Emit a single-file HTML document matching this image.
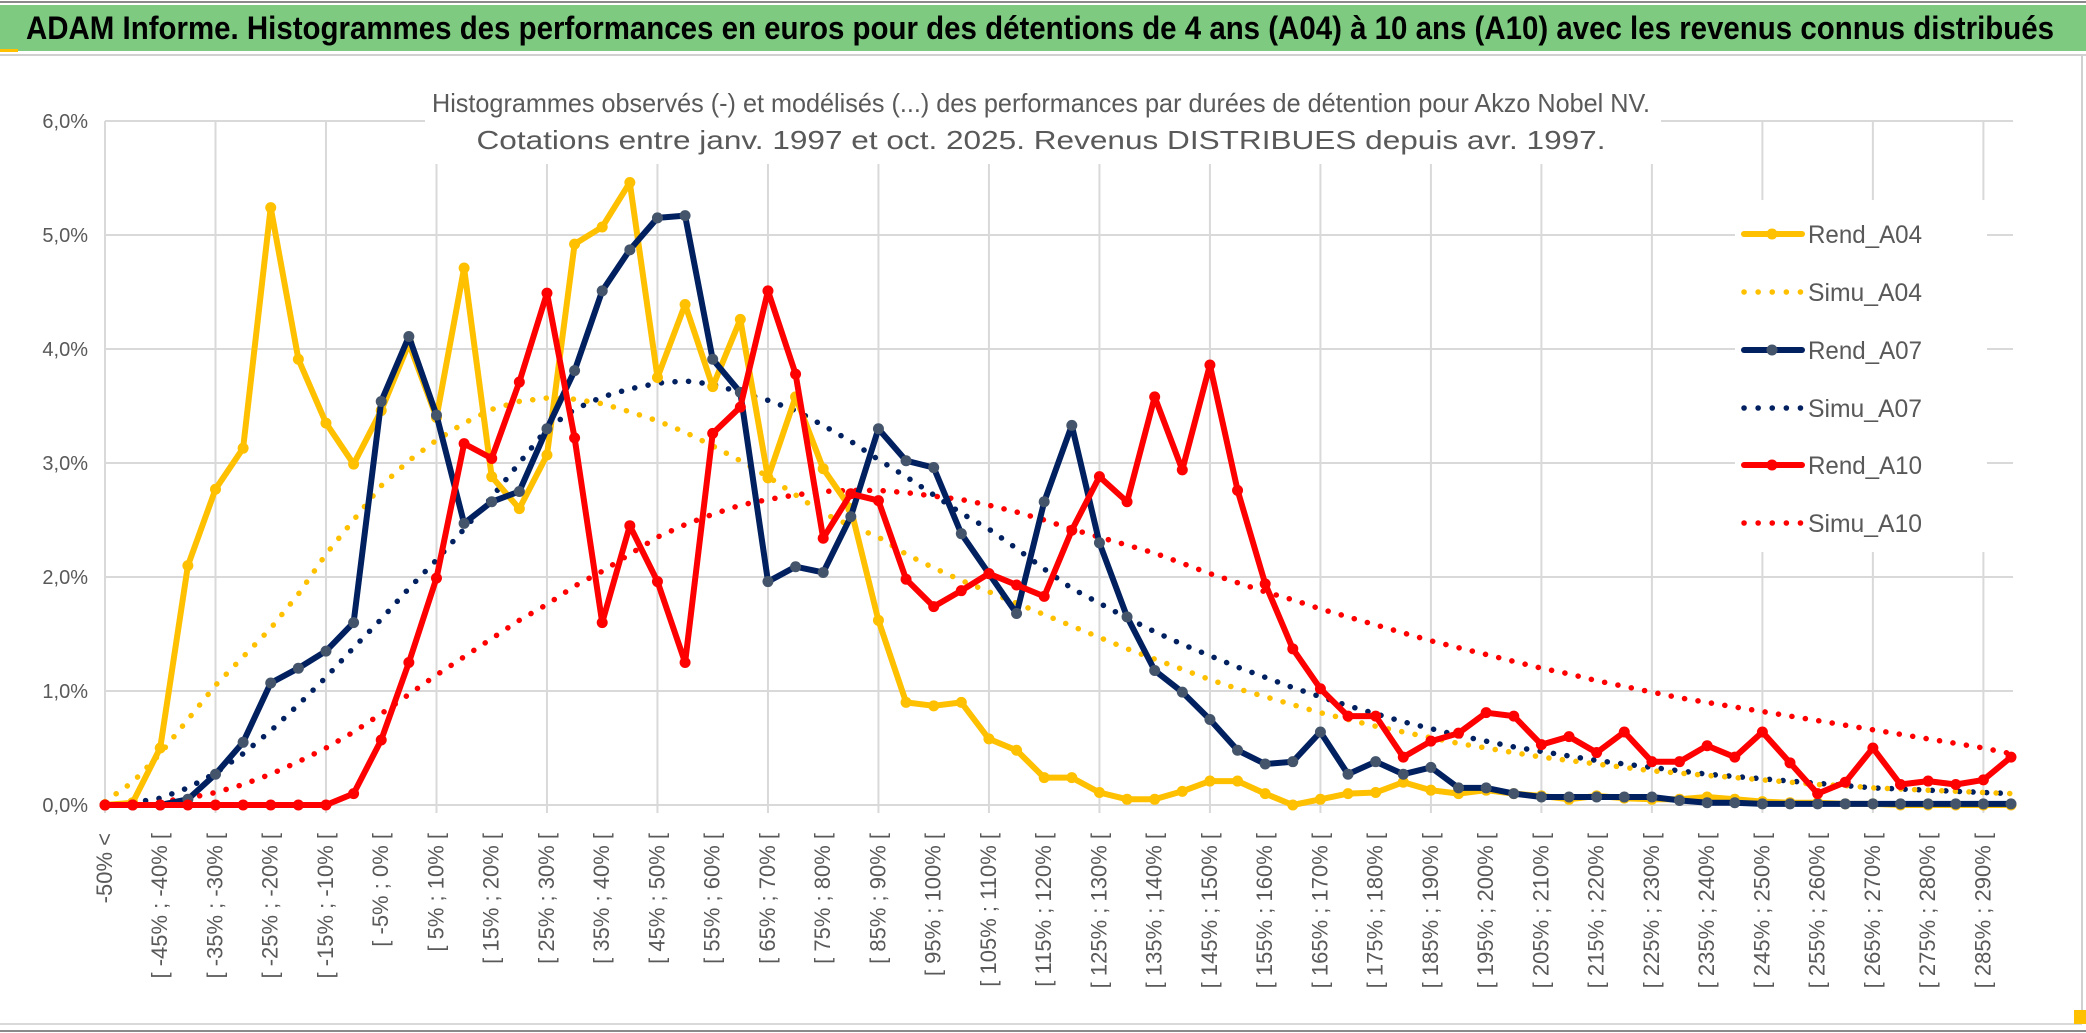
<!DOCTYPE html>
<html><head><meta charset="utf-8"><style>
html,body{margin:0;padding:0;background:#fff;}
svg{display:block;font-family:"Liberation Sans",sans-serif;}
</style></head><body>
<svg id="chart" width="2086" height="1033" viewBox="0 0 2086 1033" xmlns="http://www.w3.org/2000/svg">
<rect x="0" y="0" width="2086" height="1033" fill="#fff"/>
<line x1="0" y1="2" x2="2086" y2="2" stroke="#8a8a8a" stroke-width="2"/>
<rect x="0" y="5" width="2086" height="46" fill="#7ECA81"/>
<rect x="0" y="49" width="18" height="3" fill="#FFC000"/>
<line x1="0" y1="55" x2="2086" y2="55" stroke="#d0d0d0" stroke-width="2"/>
<text x="26" y="39" font-size="32" font-weight="bold" fill="#000" textLength="2028" lengthAdjust="spacingAndGlyphs">ADAM Informe. Histogrammes des performances en euros pour des détentions de 4 ans (A04) à 10 ans (A10) avec les revenus connus distribués</text>
<line x1="2082" y1="56" x2="2082" y2="1024" stroke="#d0d0d0" stroke-width="2"/>
<line x1="0" y1="1024" x2="2082" y2="1024" stroke="#d9d9d9" stroke-width="2"/>
<line x1="0" y1="1031" x2="2086" y2="1031" stroke="#8a8a8a" stroke-width="2"/>
<rect x="2074" y="1010" width="12" height="14" fill="#FFC000"/>
<g id="grid"></g>
<rect x="425" y="78" width="1236" height="86" fill="#fff"/>
<g id="ylabels"></g>
<g id="xlabels"></g>
<g id="series"></g>
<rect x="1735" y="200" width="252" height="352" fill="#fff"/>
<g id="legend"></g>
<text x="1041" y="112" font-size="26" fill="#595959" text-anchor="middle" textLength="1218" lengthAdjust="spacingAndGlyphs">Histogrammes observés (-) et modélisés (...) des performances par durées de détention pour Akzo Nobel NV.</text>
<text x="1041" y="149" font-size="26" fill="#595959" text-anchor="middle" textLength="1129" lengthAdjust="spacingAndGlyphs">Cotations entre janv. 1997 et oct. 2025. Revenus DISTRIBUES depuis avr. 1997.</text>
</svg>
<script>
const categories = (function(){const c=["-50% <"];for(let k=1;k<70;k++){c.push("[ "+(-55+5*k)+"% ; "+(-50+5*k)+"% [");}return c;})();
const yTicks = [0,1,2,3,4,5,6];
const yTickLabels = ["0,0%","1,0%","2,0%","3,0%","4,0%","5,0%","6,0%"];
const rendA04 = [0,0.02,0.5,2.1,2.77,3.13,5.24,3.91,3.35,2.99,3.46,4.05,3.4,4.71,2.88,2.6,3.07,4.92,5.07,5.46,3.75,4.39,3.67,4.26,2.87,3.58,2.95,2.6,1.62,0.9,0.87,0.9,0.58,0.48,0.24,0.24,0.11,0.05,0.05,0.12,0.21,0.21,0.1,0.0,0.05,0.1,0.11,0.2,0.13,0.1,0.13,0.1,0.08,0.05,0.08,0.06,0.05,0.05,0.07,0.05,0.03,0.02,0.02,0.01,0.01,0,0,0,0,0];
const simuA04 = [0.03,0.2,0.45,0.75,1.05,1.3,1.55,1.85,2.2,2.5,2.8,3.02,3.2,3.35,3.47,3.54,3.57,3.56,3.52,3.45,3.37,3.27,3.15,3.02,2.88,2.72,2.56,2.45,2.35,2.2,2.08,1.97,1.87,1.77,1.67,1.57,1.47,1.37,1.28,1.19,1.1,1.02,0.95,0.88,0.81,0.75,0.69,0.64,0.59,0.54,0.5,0.46,0.42,0.39,0.36,0.33,0.3,0.28,0.26,0.24,0.22,0.2,0.18,0.17,0.15,0.14,0.13,0.12,0.11,0.1];
const rendA07 = [0,0,0,0.05,0.27,0.55,1.07,1.2,1.35,1.6,3.54,4.11,3.42,2.47,2.66,2.75,3.3,3.81,4.51,4.87,5.15,5.17,3.91,3.62,1.96,2.09,2.04,2.53,3.3,3.02,2.96,2.38,2.03,1.68,2.66,3.33,2.3,1.65,1.18,0.99,0.75,0.48,0.36,0.38,0.64,0.27,0.38,0.27,0.33,0.15,0.15,0.1,0.07,0.07,0.07,0.07,0.07,0.04,0.02,0.02,0.01,0.01,0.01,0.01,0.01,0.01,0.01,0.01,0.01,0.01];
const simuA07 = [0,0.02,0.06,0.15,0.28,0.45,0.65,0.88,1.12,1.38,1.63,1.9,2.15,2.42,2.7,3.0,3.3,3.47,3.58,3.65,3.7,3.72,3.69,3.62,3.55,3.46,3.33,3.19,3.03,2.88,2.72,2.56,2.42,2.25,2.07,1.9,1.77,1.64,1.52,1.41,1.31,1.21,1.12,1.03,0.95,0.87,0.8,0.73,0.67,0.61,0.56,0.51,0.47,0.43,0.39,0.36,0.33,0.3,0.27,0.25,0.23,0.21,0.19,0.17,0.15,0.14,0.13,0.12,0.11,0.1];
const rendA10 = [0,0,0,0,0,0,0,0,0,0.1,0.57,1.25,1.99,3.17,3.04,3.71,4.49,3.22,1.6,2.45,1.96,1.25,3.26,3.49,4.51,3.78,2.34,2.73,2.67,1.98,1.74,1.88,2.03,1.93,1.83,2.41,2.88,2.66,3.58,2.94,3.86,2.76,1.94,1.37,1.02,0.78,0.78,0.42,0.56,0.63,0.81,0.78,0.53,0.6,0.46,0.64,0.38,0.38,0.52,0.42,0.64,0.37,0.1,0.2,0.5,0.18,0.21,0.18,0.22,0.42];
const simuA10 = [0,0.01,0.03,0.06,0.11,0.18,0.27,0.38,0.5,0.64,0.8,0.97,1.14,1.3,1.46,1.62,1.76,1.92,2.05,2.2,2.35,2.46,2.55,2.63,2.68,2.72,2.75,2.76,2.76,2.74,2.71,2.68,2.63,2.57,2.5,2.42,2.35,2.28,2.21,2.12,2.03,1.95,1.87,1.8,1.72,1.65,1.58,1.51,1.44,1.38,1.32,1.26,1.2,1.15,1.09,1.04,0.99,0.94,0.9,0.86,0.82,0.78,0.74,0.7,0.66,0.62,0.58,0.54,0.5,0.45];
const seriesNames = ["Rend_A04","Simu_A04","Rend_A07","Simu_A07","Rend_A10","Simu_A10"];

const NS="http://www.w3.org/2000/svg";
const X0=105, X1=2011, Y0=805, Y6=121, PLOT_R=2013;
function xPos(i){return X0+(X1-X0)*i/(categories.length-1);}
function yPos(v){return Y0-(Y0-Y6)*v/6;}
function mk(tag,attrs,parent){const e=document.createElementNS(NS,tag);for(const k in attrs)e.setAttribute(k,attrs[k]);parent.appendChild(e);return e;}

const grid=document.getElementById('grid');
yTicks.forEach(function(t){
  const l=mk('line',{x1:X0,x2:PLOT_R,y1:yPos(t),y2:yPos(t),stroke:'#d9d9d9','stroke-width':2},grid);
  
  
});
for(let i=0;i<categories.length;i+=4){
  const l=mk('line',{x1:xPos(i),x2:xPos(i),y1:Y6,y2:Y0+8,stroke:'#d9d9d9','stroke-width':2},grid);
  
  
}
const yl=document.getElementById('ylabels');
yTicks.forEach(function(t,i){
  const tx=mk('text',{x:88,y:yPos(t)+7,'font-size':20,fill:'#595959','text-anchor':'end'},yl);
  tx.textContent=yTickLabels[i];
  
  
});
const xl=document.getElementById('xlabels');
for(let i=0;i<categories.length;i+=2){
  const x=xPos(i)+7;
  const tx=mk('text',{x:x,y:833,'font-size':22,fill:'#595959','text-anchor':'end',transform:'rotate(-90 '+x+' 833)'},xl);
  tx.textContent=categories[i];
  
  
}
const sg=document.getElementById('series');
function pts(arr){return arr.map(function(v,i){return xPos(i).toFixed(1)+','+yPos(v).toFixed(1);}).join(' ');}
function dotted(arr,color,name){
  const p=mk('polyline',{points:pts(arr),fill:'none',stroke:color,'stroke-width':5.5,'stroke-linecap':'round','stroke-dasharray':'0.1 13.5'},sg);
  
  
}
function solid(arr,color,mcolor,name){
  const p=mk('polyline',{points:pts(arr),fill:'none',stroke:color,'stroke-width':6,'stroke-linejoin':'round'},sg);
  
  
  arr.forEach(function(v,i){
    const c=mk('circle',{cx:xPos(i),cy:yPos(v),r:5.5,fill:mcolor},sg);
    
    
  });
}
dotted(simuA10,'#FF0000','simu-a10-line');
dotted(simuA07,'#002060','simu-a07-line');
dotted(simuA04,'#FFC000','simu-a04-line');
solid(rendA04,'#FFC000','#FFC000','rend-a04-line');
solid(rendA07,'#002060','#44546A','rend-a07-line');
solid(rendA10,'#FF0000','#FF0000','rend-a10-line');

const lg=document.getElementById('legend');
const lgY=[234,292,350,408,465,523];
const lgColors=['#FFC000','#FFC000','#002060','#002060','#FF0000','#FF0000'];
const lgMarker=['#FFC000',null,'#44546A',null,'#FF0000',null];
seriesNames.forEach(function(n,i){
  const y=lgY[i];
  const g=mk('g',{},lg);
  
  
  if(i%2===0){
    mk('line',{x1:1744,x2:1802,y1:y,y2:y,stroke:lgColors[i],'stroke-width':6,'stroke-linecap':'round'},g);
    mk('circle',{cx:1772,cy:y,r:5.5,fill:lgMarker[i]},g);
  } else {
    mk('line',{x1:1744,x2:1802,y1:y,y2:y,stroke:lgColors[i],'stroke-width':5.5,'stroke-linecap':'round','stroke-dasharray':'0.1 14'},g);
  }
  const t=mk('text',{x:1808,y:y+9,'font-size':25,fill:'#595959',textLength:114,lengthAdjust:'spacingAndGlyphs'},g);
  t.textContent=n;
});
</script>
</body></html>
